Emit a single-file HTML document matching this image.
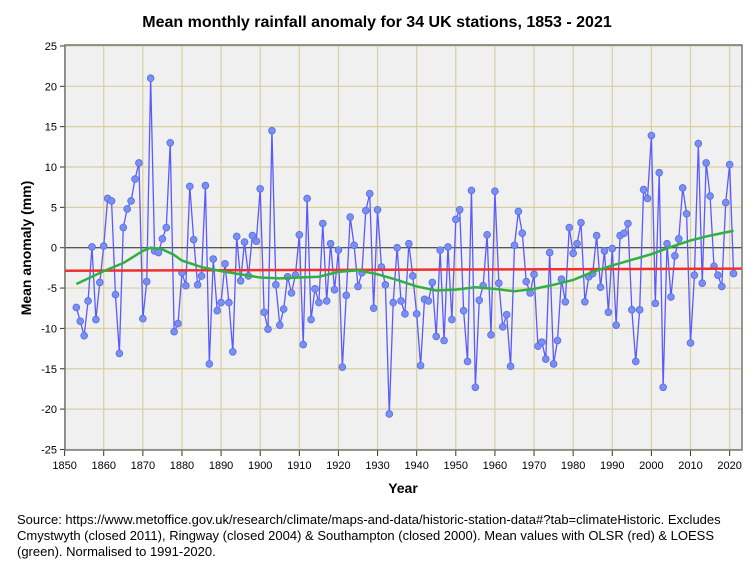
<!DOCTYPE html>
<html><head><meta charset="utf-8"><style>
body{margin:0;background:#fff;font-family:"Liberation Sans",sans-serif}
svg text{font-family:"Liberation Sans",sans-serif}
</style></head><body>
<svg width="754" height="564">
<rect width="754" height="564" fill="#fff"/>
<text x="377" y="27" text-anchor="middle" font-size="16" font-weight="bold">Mean monthly rainfall anomaly for 34 UK stations, 1853 - 2021</text>
<rect x="65" y="45" width="677" height="405" fill="#f0f0f0"/>
<g id="grid"></g><g id="axes"></g><g id="marks"></g>
<rect x="65" y="45" width="677" height="405" fill="none" stroke="#777" stroke-width="1.5"/>
<text transform="translate(31,248) rotate(-90)" text-anchor="middle" font-size="14" font-weight="bold">Mean anomaly (mm)</text>
<text x="403" y="493" text-anchor="middle" font-size="14" font-weight="bold">Year</text>
<g font-size="13">
<text x="17" y="524">Source: https://www.metoffice.gov.uk/research/climate/maps-and-data/historic-station-data#?tab=climateHistoric. Excludes</text>
<text x="17" y="540">Cmystwyth (closed 2011), Ringway (closed 2004) &amp; Southampton (closed 2000). Mean values with OLSR (red) &amp; LOESS</text>
<text x="17" y="556">(green). Normalised to 1991-2020.</text>
</g>
</svg>
<script>
const years=[];for(let y=1853;y<=2021;y++)years.push(y);
const anomalies=[-7.4,-9.1,-10.9,-6.6,0.1,-8.9,-4.3,0.2,6.1,5.8,-5.8,-13.1,2.5,4.8,5.8,8.5,10.5,-8.8,-4.2,21.0,-0.4,-0.6,1.1,2.5,13.0,-10.4,-9.4,-3.1,-4.7,7.6,1.0,-4.6,-3.5,7.7,-14.4,-1.4,-7.8,-6.8,-2.0,-6.8,-12.9,1.4,-4.1,0.7,-3.5,1.5,0.8,7.3,-8.0,-10.1,14.5,-4.6,-9.6,-7.6,-3.6,-5.6,-3.4,1.6,-12.0,6.1,-8.9,-5.1,-6.8,3.0,-6.6,0.5,-5.2,-0.3,-14.8,-5.9,3.8,0.3,-4.8,-3.1,4.6,6.7,-7.5,4.7,-2.4,-4.6,-20.6,-6.8,0.0,-6.6,-8.2,0.5,-3.5,-8.2,-14.6,-6.4,-6.6,-4.3,-11.0,-0.3,-11.5,0.1,-8.9,3.5,4.7,-7.8,-14.1,7.1,-17.3,-6.5,-4.7,1.6,-10.8,7.0,-4.4,-9.8,-8.3,-14.7,0.3,4.5,1.8,-4.2,-5.6,-3.3,-12.2,-11.7,-13.8,-0.6,-14.4,-11.5,-3.9,-6.7,2.5,-0.7,0.5,3.1,-6.7,-3.6,-3.2,1.5,-4.9,-0.4,-8.0,-0.1,-9.6,1.5,1.8,3.0,-7.7,-14.1,-7.7,7.2,6.1,13.9,-6.9,9.3,-17.3,0.5,-6.1,-1.0,1.1,7.4,4.2,-11.8,-3.4,12.9,-4.4,10.5,6.4,-2.3,-3.4,-4.8,5.6,10.3,-3.2];
const loessYears=[1853,1860,1865,1870,1872,1875,1878,1880,1885,1890,1895,1900,1905,1910,1915,1920,1925,1930,1935,1940,1945,1950,1955,1960,1965,1970,1975,1980,1985,1990,1995,2000,2005,2010,2015,2021];
const loessValues=[-4.5,-2.9,-1.9,-0.4,0.0,-0.2,-0.9,-1.6,-2.4,-2.9,-3.3,-3.7,-3.8,-3.7,-3.6,-3.0,-2.8,-3.3,-4.0,-4.8,-5.3,-5.2,-4.9,-5.1,-5.4,-5.1,-4.6,-4.0,-3.0,-2.2,-1.5,-0.8,0.1,0.9,1.5,2.1];
const olsYears=[1850,2023];
const olsValues=[-2.85,-2.6];
const xTicks=[1850,1860,1870,1880,1890,1900,1910,1920,1930,1940,1950,1960,1970,1980,1990,2000,2010,2020];
const yTicks=[25,20,15,10,5,0,-5,-10,-15,-20,-25];
const NS='http://www.w3.org/2000/svg';
const X=v=>64.6+(v-1850)*3.912;
const Y=v=>247.7-v*8.07;
function mk(tag,attrs,parent){const e=document.createElementNS(NS,tag);for(const k in attrs)e.setAttribute(k,attrs[k]);document.getElementById(parent).appendChild(e);return e;}
xTicks.forEach(t=>{
 const g=mk('line',{x1:X(t),x2:X(t),y1:45,y2:450,stroke:'#d8d0a0','stroke-width':1.2},'grid');
 
 
 const tk=mk('line',{x1:X(t),x2:X(t),y1:450,y2:456,stroke:'#333'},'axes');
 
 
 const tx=mk('text',{x:X(t),y:469,'text-anchor':'middle','font-size':11},'axes');tx.textContent=t;
 
 
});
yTicks.forEach(t=>{
 const g=mk('line',{x1:65,x2:742,y1:Y(t),y2:Y(t),stroke:t===0?'#222':'#d8d0a0','stroke-width':t===0?1:1.2},'grid');
 
 
 const tk=mk('line',{x1:60,x2:65,y1:Y(t),y2:Y(t),stroke:'#333'},'axes');
 
 
 const tx=mk('text',{x:57,y:Y(t)+4,'text-anchor':'end','font-size':11},'axes');tx.textContent=t;
 
 
});
const dataLine=mk('polyline',{points:years.map((y,i)=>X(y)+','+Y(anomalies[i])).join(' '),fill:'none',stroke:'#5a5aff','stroke-width':1.3},'marks');


years.forEach((y,i)=>{
 const c=mk('circle',{cx:X(y),cy:Y(anomalies[i]),r:3.4,fill:'#7890f0',stroke:'#5a6ae8','stroke-width':0.8},'marks');
 
 
});
const ols=mk('polyline',{points:olsYears.map((y,i)=>X(y)+','+Y(olsValues[i])).join(' '),fill:'none',stroke:'#f03030','stroke-width':2.5},'marks');


const lo=mk('polyline',{points:loessYears.map((y,i)=>X(y)+','+Y(loessValues[i])).join(' '),fill:'none',stroke:'#30b040','stroke-width':2.5},'marks');


</script>
</body></html>
